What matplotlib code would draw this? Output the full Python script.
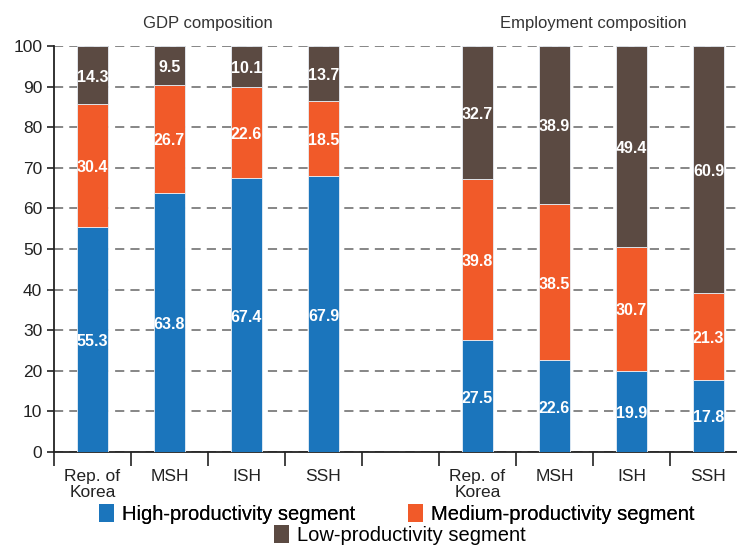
import matplotlib

matplotlib.use("Agg")
import matplotlib.pyplot as plt
from matplotlib.patches import Patch

plt.rcParams["font.family"] = ["Liberation Sans", "DejaVu Sans"]

categories = ["Rep. of\nKorea", "MSH", "ISH", "SSH"]
panel_titles = ["GDP composition", "Employment composition"]
segment_names = ["High-productivity segment", "Medium-productivity segment", "Low-productivity segment"]

gdp_high = [55.3, 63.8, 67.4, 67.9]
gdp_medium = [30.4, 26.7, 22.6, 18.5]
gdp_low = [14.3, 9.5, 10.1, 13.7]

emp_high = [27.5, 22.6, 19.9, 17.8]
emp_medium = [39.8, 38.5, 30.7, 21.3]
emp_low = [32.7, 38.9, 49.4, 60.9]

colors = ["#1b75bc", "#f15a29", "#5b4a42"]


def draw_group(ax, xs, series):
    bottoms = [0.0] * len(xs)
    for values, color in zip(series, colors):
        ax.bar(xs, values, width=0.4, bottom=bottoms, color=color,
               edgecolor="#e8eef5", linewidth=0.6, zorder=3)
        for x, b, v in zip(xs, bottoms, values):
            ax.text(x, b + v / 2 - 0.5, f"{v:.1f}", ha="center", va="center",
                    color="white", fontsize=11.5, fontweight="bold", zorder=4)
        bottoms = [b + v for b, v in zip(bottoms, values)]


fig = plt.figure(figsize=(7.37, 5.48), dpi=100)
ax = fig.add_axes([54 / 737, 96 / 548, 693 / 737, 406 / 548])

gdp_x = [0, 1, 2, 3]
emp_x = [5, 6, 7, 8]
draw_group(ax, gdp_x, [gdp_high, gdp_medium, gdp_low])
draw_group(ax, emp_x, [emp_high, emp_medium, emp_low])

ax.set_xlim(-0.5, 8.5)
ax.set_ylim(0, 100)
ax.set_yticks(range(0, 101, 10))
ax.tick_params(axis="y", labelsize=12.5, length=5, width=1.2, colors="#222")
ax.yaxis.grid(True, linestyle=(0, (6, 4)), color="#666", linewidth=1.1, zorder=0)
ax.set_axisbelow(True)

# category labels sit between the boundary ticks
ax.set_xticks(gdp_x + emp_x)
ax.set_xticklabels(categories + categories, fontsize=12.5, color="#222", linespacing=1.1)
ax.tick_params(axis="x", which="major", length=0, pad=12)
ax.set_xticks([i - 0.5 for i in range(10)], minor=True)
ax.tick_params(axis="x", which="minor", length=10, width=1.2, color="#222")

for side in ["top", "right"]:
    ax.spines[side].set_visible(False)
for side in ["left", "bottom"]:
    ax.spines[side].set_linewidth(1.3)
    ax.spines[side].set_color("#222")

for cx, title in zip([1.5, 6.5], panel_titles):
    ax.text(cx, 105.6, title, ha="center", va="center", fontsize=12,
            color="#333", clip_on=False)

handles = [Patch(facecolor=c, edgecolor="none") for c in colors]
leg_kw = dict(loc="center", frameon=False, fontsize=14.5, handlelength=0.75,
              handleheight=1.0, handletextpad=0.4, borderpad=0)
leg1 = fig.legend(handles[:2], segment_names[:2], ncol=2,
                  bbox_to_anchor=(397 / 737, 1 - 514 / 548),
                  columnspacing=2.6, **leg_kw)
fig.add_artist(leg1)
fig.legend(handles[2:], segment_names[2:],
           bbox_to_anchor=(400 / 737, 1 - 535 / 548), **leg_kw)

fig.savefig("out.png", dpi=100)
